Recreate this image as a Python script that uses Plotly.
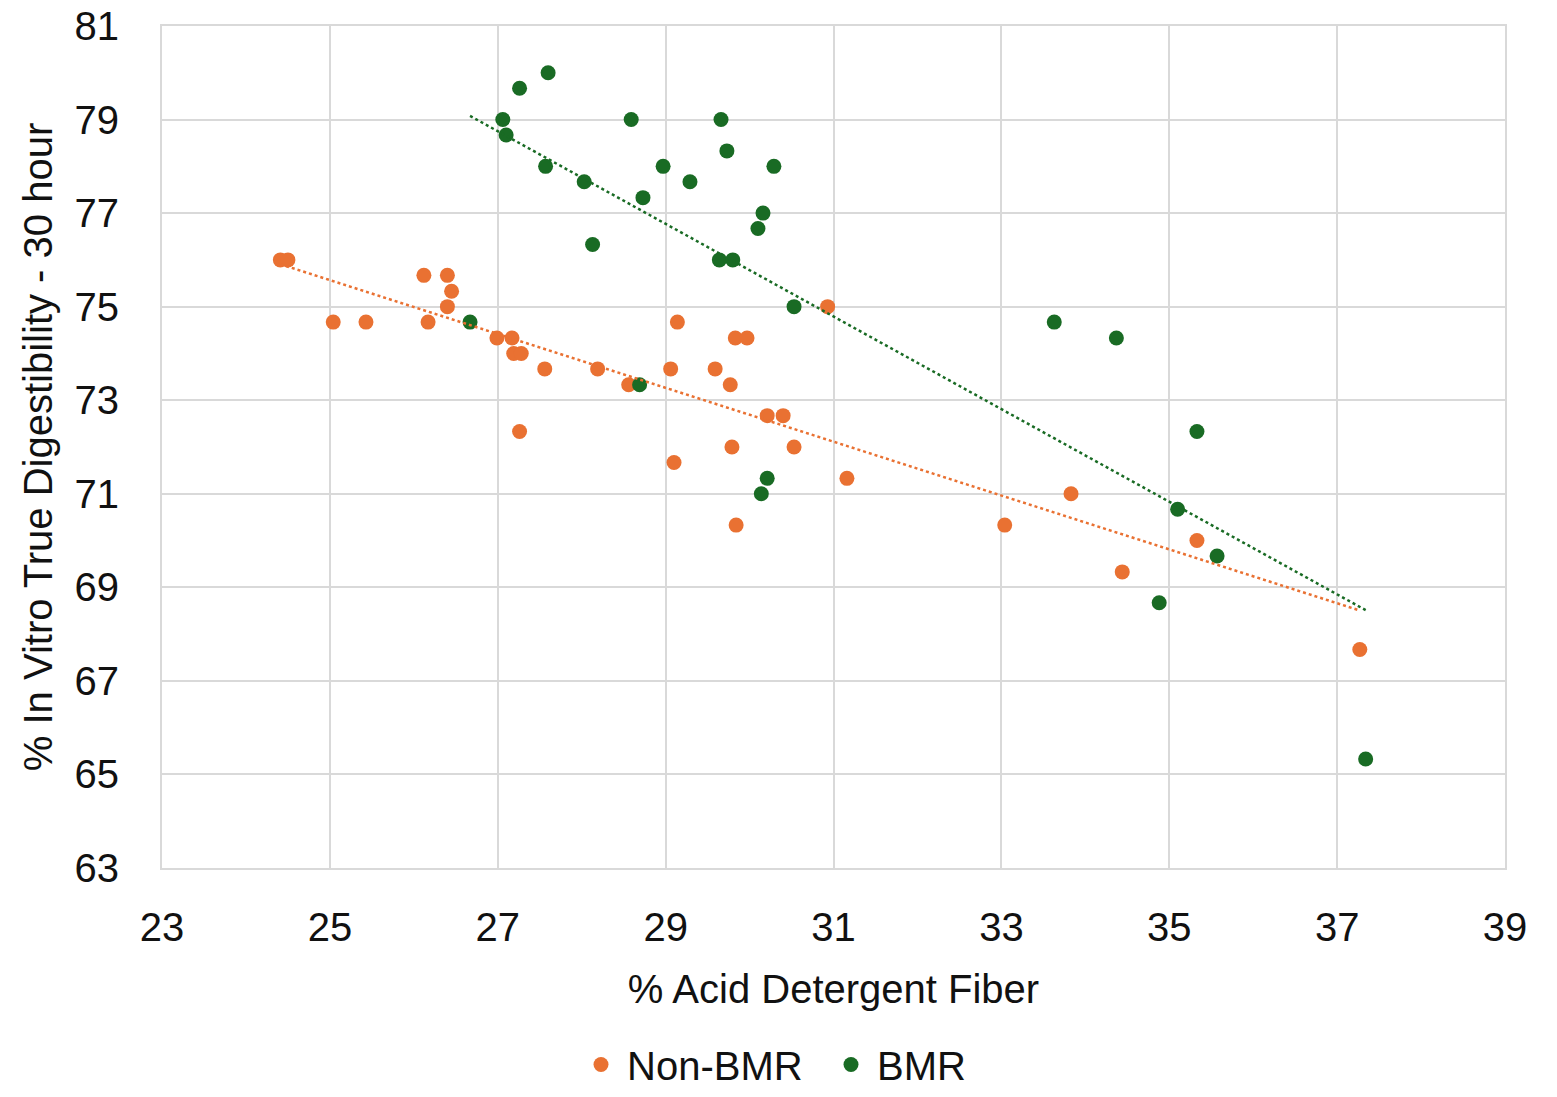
import numpy as np
import plotly.graph_objects as go

# ---- Data ----
non_bmr_adf = [24.41, 24.50, 25.04, 25.43, 26.12, 26.40, 26.45, 26.40, 26.17, 26.99,
               27.17, 27.19, 27.28, 27.26, 27.56, 28.19, 28.56, 29.06, 29.14, 29.10,
               29.59, 29.77, 29.83, 29.97, 29.79, 29.84, 30.21, 30.40, 30.53, 30.93,
               31.16, 33.04, 33.83, 34.44, 35.33, 37.27]
non_bmr_ivtd = [76.0, 76.0, 74.67, 74.67, 75.67, 75.67, 75.33, 75.0, 74.67, 74.33,
                74.33, 74.0, 74.0, 72.33, 73.67, 73.67, 73.33, 73.67, 74.67, 71.67,
                73.67, 73.33, 74.33, 74.33, 72.0, 70.33, 72.67, 72.67, 72.0, 75.0,
                71.33, 70.33, 71.0, 69.33, 70.0, 67.67]

bmr_adf = [27.60, 27.26, 27.06, 27.10, 28.59, 29.66, 29.73, 27.57, 28.97, 30.29,
           28.03, 29.29, 28.73, 30.16, 30.10, 28.13, 29.64, 29.80, 30.53, 26.67,
           28.69, 30.21, 30.14, 33.63, 34.37, 35.33, 35.10, 35.57, 34.88, 37.34]
bmr_ivtd = [80.0, 79.67, 79.0, 78.67, 79.0, 79.0, 78.33, 78.0, 78.0, 78.0,
            77.67, 77.67, 77.33, 77.0, 76.67, 76.33, 76.0, 76.0, 75.0, 74.67,
            73.33, 71.33, 71.0, 74.67, 74.33, 72.33, 70.67, 69.67, 68.67, 65.33]

x_ticks = [23, 25, 27, 29, 31, 33, 35, 37, 39]
y_ticks = [63, 65, 67, 69, 71, 73, 75, 77, 79, 81]

ORANGE = "#E97132"
GREEN = "#196B24"
GRID = "#D9D9D9"
FONT = "Liberation Sans"

def trend(xs, ys):
    m, b = np.polyfit(xs, ys, 1)
    xr = np.array([min(xs), max(xs)])
    return xr, m * xr + b

fig = go.Figure()

fig.add_trace(go.Scatter(x=non_bmr_adf, y=non_bmr_ivtd, mode="markers", name="Non-BMR",
                         marker=dict(color=ORANGE, size=15)))
fig.add_trace(go.Scatter(x=bmr_adf, y=bmr_ivtd, mode="markers", name="BMR",
                         marker=dict(color=GREEN, size=15)))

tx, ty = trend(non_bmr_adf, non_bmr_ivtd)
fig.add_trace(go.Scatter(x=tx, y=ty, mode="lines", showlegend=False, hoverinfo="skip",
                         line=dict(color=ORANGE, width=2.5, dash="dot")))
tx, ty = trend(bmr_adf, bmr_ivtd)
fig.add_trace(go.Scatter(x=tx, y=ty, mode="lines", showlegend=False, hoverinfo="skip",
                         line=dict(color=GREEN, width=2.5, dash="dot")))

fig.update_layout(
    width=1557, height=1097,
    margin=dict(l=162, r=52, t=26, b=229, autoexpand=False),
    paper_bgcolor="white", plot_bgcolor="white",
    font=dict(family=FONT, size=40, color="#111111"),
    showlegend=True,
    legend=dict(orientation="h", xref="container", yref="container",
                x=575 / 1557, xanchor="left", y=0.0, yanchor="bottom",
                font=dict(size=40), itemwidth=42, entrywidth=193,
                entrywidthmode="pixels"),
    xaxis=dict(range=[23, 39], tickvals=x_ticks, ticktext=[str(v) for v in x_ticks],
               showgrid=True, gridcolor=GRID, gridwidth=2, automargin=False,
               showline=True, linecolor=GRID, linewidth=2, mirror=True,
               zeroline=False, ticks="", ticklabelstandoff=23,
               title=dict(text="% Acid Detergent Fiber", standoff=27,
                          font=dict(size=40))),
    yaxis=dict(range=[63, 81], tickvals=y_ticks, ticktext=[str(v) for v in y_ticks],
               showgrid=True, gridcolor=GRID, gridwidth=2, automargin=False,
               showline=True, linecolor=GRID, linewidth=2, mirror=True,
               zeroline=False, ticks="", ticklabelstandoff=33,
               title=dict(text="% In Vitro True Digestibility - 30 hour", standoff=10,
                          font=dict(size=40))),
)

fig.write_html("out.html")
